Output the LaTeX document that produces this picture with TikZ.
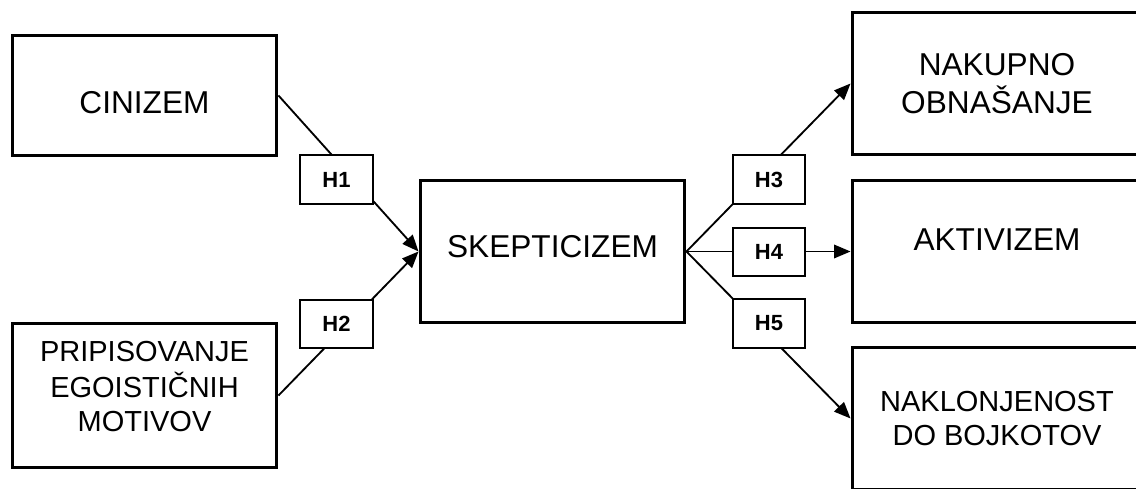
\documentclass[tikz,border=0pt]{standalone}
\usepackage{fontspec}
\setmainfont{Liberation Sans}
\usetikzlibrary{arrows.meta}
\def\bigW{5.3cm}
\def\wideW{5.8cm}
\def\bigH{2.86cm}
\newcommand{\shiftup}[2]{\raisebox{#1}[\height][\depth]{#2}}

\begin{document}
\begin{tikzpicture}[
    x=0.02cm, y=-0.02cm,
    >={Triangle[length=3.3mm,width=2.7mm]},
    varbox/.style={draw, line width=1.7pt, minimum width=\bigW, minimum height=\bigH,
        inner sep=0pt, font=\fontsize{18}{21.5}\selectfont, align=center},
    wide/.style={minimum width=\wideW},
    longtext/.style={font=\fontsize{16.5}{19.5}\selectfont},
    hypbox/.style={draw, fill=white, line width=1pt, minimum width=1.45cm,
        minimum height=0.97cm, inner sep=0pt, font=\fontsize{12.5}{14}\bfseries},
    link/.style={line width=1.05pt}
]
\clip (0,0) rectangle (1136,489);
% variables
\node[varbox, minimum height=2.42cm] (cin) at (144.5,95.5) {\shiftup{-0.15cm}{CINIZEM}};
\node[varbox, longtext, minimum height=2.9cm] (pri) at (144.5,395.5)
    {\shiftup{0.11cm}{\begin{tabular}{@{}c@{}}PRIPISOVANJE\\EGOISTIČNIH\\MOTIVOV\end{tabular}}};
\node[varbox] (skep) at (552.5,251.5) {\shiftup{0.09cm}{SKEPTICIZEM}};
\node[varbox, wide] (nak) at (997,83.5) {NAKUPNO\\OBNAŠANJE};
\node[varbox, wide] (akt) at (997,251.5) {\shiftup{0.24cm}{AKTIVIZEM}};
\node[varbox, wide, longtext] (bojk) at (997,418.5) {NAKLONJENOST\\DO BOJKOTOV};

% paths
\draw[link, ->] (cin.east) -- (skep.west);
\draw[link, ->] (pri.east) -- (skep.west);
\draw[link, ->] (skep.east) -- (nak.west);
\draw[link, ->] (skep.east) -- (akt.west);
\draw[link, ->] (skep.east) -- (bojk.west);

% hypotheses
\node[hypbox] (h1) at (336.5,179.5) {H1};
\node[hypbox] (h2) at (336.5,324) {H2};
\node[hypbox] (h3) at (769,179.5) {H3};
\node[hypbox] (h4) at (769,252) {H4};
\node[hypbox] (h5) at (769,323.5) {H5};
\end{tikzpicture}
\end{document}
